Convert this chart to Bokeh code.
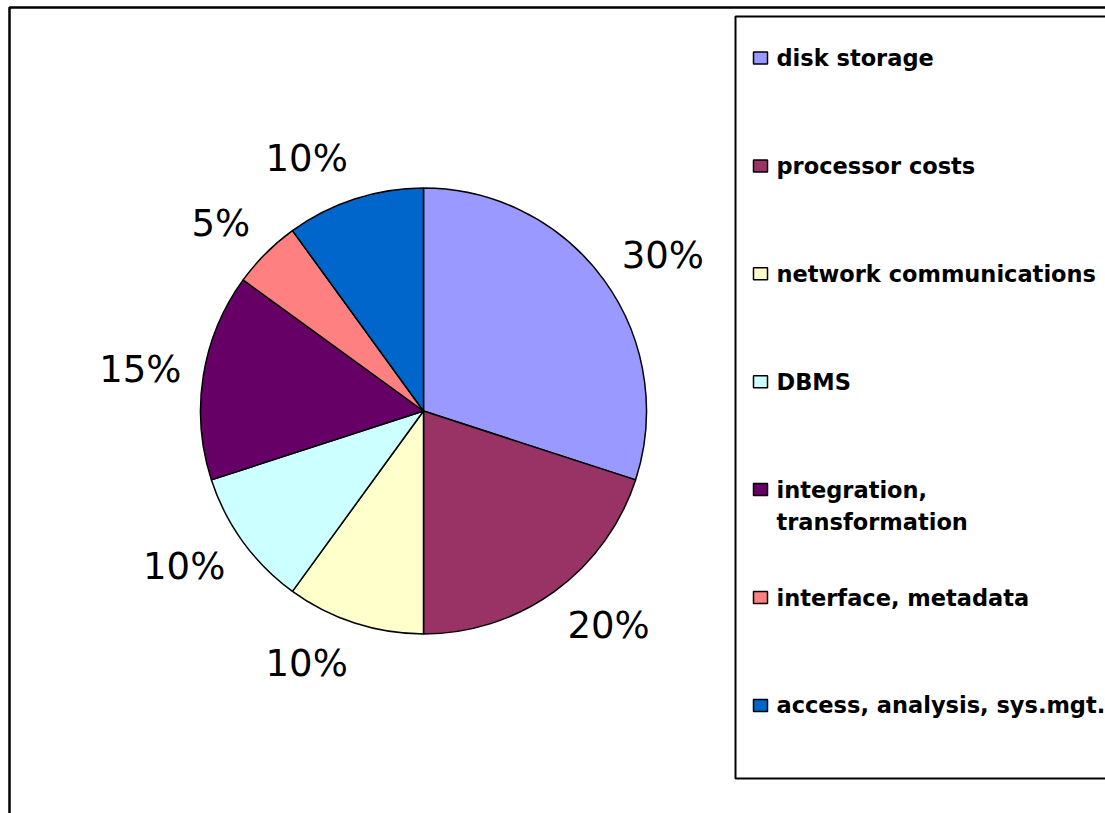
import numpy as np
from bokeh.plotting import figure
from bokeh.models import Range1d, ColumnDataSource
from bokeh.core.properties import value
from bokeh.embed import file_html
from bokeh.resources import INLINE

# ---- data ----
categories = ["disk storage", "processor costs", "network communications", "DBMS",
              "integration,\ntransformation", "interface, metadata", "access, analysis, sys.mgt."]
shares = [30, 20, 10, 10, 15, 5, 10]
colors = ["#9999FF", "#993366", "#FFFFCC", "#CCFFFF", "#660066", "#FF8080", "#0066CC"]

W, H = 1105, 813
def sy(y):  # screen y -> data y
    return H - y

p = figure(width=W, height=H, x_range=Range1d(0, W), y_range=Range1d(0, H),
           output_backend="svg", toolbar_location=None,
           x_axis_location=None, y_axis_location=None, min_border=0)
p.grid.visible = False
p.outline_line_color = None
p.background_fill_color = "white"

# outer chart border and legend box
p.quad(left=[9], right=[W + 50], top=[sy(7)], bottom=[-50],
       fill_color=None, line_color="black", line_width=2.5)
p.quad(left=[735], right=[W + 50], top=[sy(16)], bottom=[sy(778)],
       fill_color=None, line_color="black", line_width=2)

# pie
cx, cy, R = 423, sy(410.5), 223
vals = np.array(shares, dtype=float)
frac = vals / vals.sum()
cum = np.concatenate([[0], np.cumsum(frac)])
start = np.pi / 2 - 2 * np.pi * cum[:-1]
end = np.pi / 2 - 2 * np.pi * cum[1:]
src = ColumnDataSource(dict(start=start, end=end, color=colors))
p.wedge(x=cx, y=cy, radius=R, start_angle="start", end_angle="end",
        direction="clock", fill_color="color", line_color="black",
        line_width=1.5, source=src)

# percentage labels, placed just outside the pie at each slice's mid-angle
mid = 2 * np.pi * (cum[:-1] + cum[1:]) / 2  # clockwise from top
gap = 22
half_h = 20
lx, ly, aligns, texts = [], [], [], []
for m, v in zip(mid, shares):
    dx, dy = np.sin(m), np.cos(m)
    lx.append(cx + (R + gap) * dx)
    ly.append(cy + (R + gap) * dy + dy * half_h)
    aligns.append("left" if dx > 0 else "right")
    texts.append(f"{v}%")
lsrc = ColumnDataSource(dict(x=lx, y=ly, t=texts, a=aligns))
p.text(x="x", y="y", text="t", text_align="a", text_baseline="middle",
       text_font=value("DejaVu Sans"), text_font_size="37px", text_color="black",
       source=lsrc)

# legend
item_y0, item_step = 57.5, 107.9
line_step = 32
sq_x, txt_x = 760, 776
ys = [sy(item_y0 + i * item_step) for i in range(len(categories))]
p.rect(x=[sq_x] * len(categories), y=ys, width=14, height=12,
       fill_color=colors, line_color="black", line_width=1.5)
tx, tyy, tt = [], [], []
for y, c in zip(ys, categories):
    for j, line in enumerate(c.split("\n")):
        tx.append(txt_x)
        tyy.append(y - j * line_step)
        tt.append(line)
p.text(x=tx, y=tyy, text=tt, text_align="left", text_baseline="middle",
       text_font=value("DejaVu Sans"), text_font_style="bold",
       text_font_size="22.5px", text_color="black")

open("out.html", "w").write(file_html(p, INLINE))
